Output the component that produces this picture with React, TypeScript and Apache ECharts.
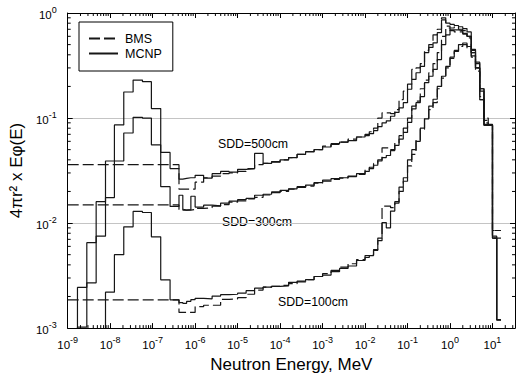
import React, { useEffect, useRef } from 'react';
import * as echarts from 'echarts';

const FONT = '"Liberation Sans", Arial, Helvetica, sans-serif';

// Axis extents, in decades (log10 of MeV and of the flux quantity)
const X_MIN = -9;
const X_MAX = 1.53;
const Y_MIN = -3;
const Y_MAX = 0;

// MCNP group boundaries, log10(E / MeV)
const mcnpEdgeExp = [
  -8.77, -8.55, -8.33, -8.11, -7.9, -7.68, -7.46, -7.24, -7.03, -6.81, -6.59, -6.38,
  -6.29, -6.2, -6.1, -6.0,
  -5.8, -5.6, -5.4, -5.2, -5.0, -4.8, -4.6, -4.4, -4.2, -4.0,
  -3.8, -3.6, -3.4, -3.2, -3.0, -2.8, -2.6, -2.4, -2.2, -2.0,
  -1.9, -1.8, -1.7, -1.6, -1.5, -1.4, -1.3, -1.2, -1.1, -1.0,
  -0.9, -0.8, -0.7, -0.6, -0.5, -0.4, -0.3, -0.2, -0.1, 0.0,
  0.1, 0.2, 0.3, 0.4, 0.5, 0.6, 0.7, 0.8, 0.9, 1.0, 1.1, 1.2,
];

// BMS group boundaries: one wide thermal group, then the same structure
const bmsEdgeExp = [
  -9.0, -6.38,
  -6.29, -6.2, -6.1, -6.0,
  -5.8, -5.6, -5.4, -5.2, -5.0, -4.8, -4.6, -4.4, -4.2, -4.0,
  -3.8, -3.6, -3.4, -3.2, -3.0, -2.8, -2.6, -2.4, -2.2, -2.0,
  -1.9, -1.8, -1.7, -1.6, -1.5, -1.4, -1.3, -1.2, -1.1, -1.0,
  -0.9, -0.8, -0.7, -0.6, -0.5, -0.4, -0.3, -0.2, -0.1, 0.0,
  0.1, 0.2, 0.3, 0.4, 0.5, 0.6, 0.7, 0.8, 0.9, 1.0, 1.1, 1.2,
];

// 4πr² · Eφ(E) per group, MCNP
const mcnp500 = [
  2.44e-3, 6.5e-3, 0.016, 0.039, 0.086, 0.177, 0.23, 0.222, 0.123, 0.047, 0.033,
  0.0262, 0.0266, 0.027, 0.027,
  0.0285, 0.0268, 0.0295, 0.031, 0.0305, 0.0325, 0.033, 0.046, 0.037, 0.0385,
  0.04, 0.042, 0.045, 0.0475, 0.05, 0.053, 0.057, 0.059, 0.061, 0.066,
  0.068, 0.071, 0.076, 0.083, 0.09, 0.094, 0.104, 0.113, 0.125, 0.14,
  0.188, 0.233, 0.27, 0.31, 0.42, 0.47, 0.52, 0.65, 0.86, 0.8,
  0.78, 0.76, 0.74, 0.71, 0.66, 0.45, 0.34, 0.19, 0.087, 0.087, 0.0072, 0.0012,
];

const mcnp300 = [
  1.02e-3, 2.7e-3, 7.5e-3, 0.0175, 0.039, 0.072, 0.1016, 0.1, 0.0556, 0.0222, 0.0144,
  0.0184, 0.0133, 0.0134, 0.018,
  0.0142, 0.0148, 0.0146, 0.0155, 0.0162, 0.0167, 0.0172, 0.0184, 0.0188, 0.0198,
  0.0205, 0.0212, 0.0222, 0.023, 0.0243, 0.0256, 0.0265, 0.027, 0.0277, 0.0296,
  0.031, 0.033, 0.0355, 0.039, 0.042, 0.044, 0.049, 0.055, 0.063, 0.073,
  0.091, 0.122, 0.14, 0.16, 0.217, 0.25, 0.29, 0.36, 0.5, 0.62,
  0.69, 0.69, 0.68, 0.64, 0.6, 0.44, 0.33, 0.19, 0.086, 0.086, 0.0075, 0.0012,
];

const mcnp100 = [
  null, null, null, 2.2e-3, 5.0e-3, 9.2e-3, 0.0129, 0.0126, 7.4e-3, 2.88e-3, 1.86e-3,
  1.75e-3, 1.72e-3, 1.8e-3, 1.87e-3,
  1.92e-3, 1.9e-3, 2.02e-3, 2.08e-3, 2.1e-3, 2.15e-3, 2.27e-3, 2.4e-3, 2.45e-3, 2.5e-3,
  2.52e-3, 2.73e-3, 2.8e-3, 2.9e-3, 3.1e-3, 3.2e-3, 3.45e-3, 3.7e-3, 3.9e-3, 4.4e-3,
  4.7e-3, 4.9e-3, 5.6e-3, 7.2e-3, 0.0101, 0.009, 0.013, 0.0155, 0.02, 0.027,
  0.04, 0.05, 0.06, 0.08, 0.098, 0.13, 0.151, 0.2, 0.25, 0.31,
  0.38, 0.44, 0.5, 0.518, 0.48, 0.39, 0.3, 0.18, 0.085, 0.085, 0.0072, 0.0012,
];

// 4πr² · Eφ(E) per group, BMS
const bms500 = [
  0.036,
  0.021, 0.021, 0.021, 0.021,
  0.0245, 0.027, 0.028, 0.0295, 0.03, 0.031, 0.033, 0.036, 0.037, 0.038,
  0.04, 0.042, 0.045, 0.048, 0.05, 0.054, 0.056, 0.059, 0.063, 0.066,
  0.07, 0.074, 0.08, 0.1, 0.112, 0.112, 0.11, 0.12, 0.15, 0.18,
  0.21, 0.29, 0.3, 0.33, 0.44, 0.5, 0.62, 0.7, 0.9, 0.75,
  0.72, 0.74, 0.7, 0.68, 0.6, 0.42, 0.3, 0.15, 0.1, 0.085, 0.0085, 0.0085,
];

const bms300 = [
  0.0149,
  0.0135, 0.0133, 0.0133, 0.0135,
  0.0138, 0.014, 0.0145, 0.015, 0.0158, 0.0163, 0.017, 0.0176, 0.0185, 0.0195,
  0.02, 0.021, 0.0218, 0.0225, 0.024, 0.025, 0.026, 0.0268, 0.028, 0.029,
  0.032, 0.034, 0.037, 0.04, 0.052, 0.052, 0.05, 0.058, 0.068, 0.08,
  0.1, 0.13, 0.145, 0.19, 0.23, 0.27, 0.33, 0.42, 0.6, 0.72,
  0.68, 0.66, 0.66, 0.63, 0.58, 0.42, 0.3, 0.16, 0.095, 0.085, 0.0072, 0.0072,
];

const bms100 = [
  1.86e-3,
  1.41e-3, 1.41e-3, 1.41e-3, 1.41e-3,
  1.6e-3, 1.65e-3, 1.65e-3, 1.88e-3, 1.9e-3, 1.95e-3, 2.1e-3, 2.3e-3, 2.45e-3, 2.5e-3,
  2.55e-3, 2.65e-3, 2.75e-3, 2.9e-3, 3.1e-3, 3.3e-3, 3.55e-3, 3.8e-3, 4.1e-3, 4.5e-3,
  4.9e-3, 5.0e-3, 5.5e-3, 6.8e-3, 0.0145, 0.0145, 0.014, 0.016, 0.022, 0.025,
  0.035, 0.045, 0.062, 0.078, 0.1, 0.12, 0.14, 0.19, 0.24, 0.3,
  0.37, 0.43, 0.48, 0.5, 0.46, 0.38, 0.28, 0.15, 0.09, 0.085, 0.0085, 0.0085,
];

const distanceLabels = ['SDD=500cm', 'SDD=300cm', 'SDD=100cm'];

// Histogram outline: each group becomes a flat segment, optionally rising from the axis floor
function toSteps(edges: number[], values: (number | null)[], fromFloor: boolean) {
  const pts: number[][] = [];
  let started = false;
  for (let i = 0; i < values.length; i++) {
    const v = values[i];
    if (v == null) continue;
    const y = Math.log10(v);
    if (!started && fromFloor) pts.push([edges[i], Y_MIN]);
    started = true;
    pts.push([edges[i], y], [edges[i + 1], y]);
  }
  return pts;
}

// Log-spaced minor tick positions (2..9 within each decade)
function minorTicks() {
  const out: number[][] = [];
  for (let n = Math.floor(X_MIN); n <= Math.ceil(X_MAX); n++) {
    for (let k = 2; k <= 9; k++) {
      const x = n + Math.log10(k);
      if (x > X_MIN && x < X_MAX) out.push([x, Y_MIN, 0]);
    }
  }
  for (let n = Y_MIN; n < Y_MAX; n++) {
    for (let k = 2; k <= 9; k++) {
      out.push([X_MIN, n + Math.log10(k), 1]);
    }
  }
  return out;
}

const pow10Label = (v: number) =>
  Math.abs(v - Math.round(v)) < 1e-6 ? `{b|10}{s|${Math.round(v)}}` : '';

const powRich = {
  b: { fontSize: 11.5, lineHeight: 16, color: '#000', fontFamily: FONT, verticalAlign: 'bottom' },
  s: { fontSize: 9, lineHeight: 9, color: '#000', fontFamily: FONT, verticalAlign: 'top' },
};

const LINE_COLOR = '#161616';

function stepSeries(name: string, data: number[][], dashed: boolean) {
  return {
    type: 'line',
    name,
    data,
    showSymbol: false,
    symbol: 'none',
    clip: true,
    z: 3,
    lineStyle: { color: LINE_COLOR, width: 1.2, type: dashed ? [11, 4] : 'solid' },
    itemStyle: { color: LINE_COLOR },
  };
}

export default function App() {
  const ref = useRef<HTMLDivElement>(null);

  useEffect(() => {
    if (!ref.current) return;
    const chart = echarts.init(ref.current, undefined, { renderer: 'svg' });

    const axisLine = { show: true, onZero: false, lineStyle: { color: '#000', width: 1 } };
    const axisTick = { show: true, inside: true, length: 5, lineStyle: { color: '#000', width: 1 } };

    chart.setOption({
      animation: false,
      backgroundColor: '#fff',
      textStyle: { fontFamily: FONT },
      grid: { left: 67, right: 2, top: 13, bottom: 47, containLabel: false },
      legend: {
        data: ['BMS', 'MCNP'],
        orient: 'vertical',
        left: 79,
        top: 22,
        itemWidth: 29,
        itemHeight: 12,
        itemGap: 2,
        padding: [10, 11, 11, 9],
        borderColor: '#000',
        borderWidth: 1,
        backgroundColor: '#fff',
        selectedMode: false,
        itemStyle: { opacity: 0, borderWidth: 0 },
        textStyle: { fontFamily: FONT, fontSize: 12.5, color: '#000', padding: [0, 0, 0, 2] },
      },
      xAxis: [
        {
          type: 'value',
          min: X_MIN,
          max: X_MAX,
          interval: 1,
          position: 'bottom',
          name: 'Neutron Energy, MeV',
          nameLocation: 'middle',
          nameGap: 25,
          nameTextStyle: { fontSize: 17, color: '#000', fontFamily: FONT },
          axisLine,
          axisTick,
          splitLine: { show: false },
          axisLabel: {
            margin: 7,
            formatter: pow10Label,
            rich: powRich,
            showMinLabel: true,
            showMaxLabel: true,
          },
        },
        {
          type: 'value',
          min: X_MIN,
          max: X_MAX,
          interval: 1,
          position: 'top',
          axisLine,
          axisTick,
          splitLine: { show: false },
          axisLabel: { show: false },
        },
      ],
      yAxis: [
        {
          type: 'value',
          min: Y_MIN,
          max: Y_MAX,
          interval: 1,
          position: 'left',
          name: '4πr² x Eφ(E)',
          nameLocation: 'middle',
          nameRotate: 90,
          nameGap: 41,
          nameTextStyle: { fontSize: 17, color: '#000', fontFamily: FONT },
          axisLine,
          axisTick,
          splitLine: { show: true, lineStyle: { color: '#c4c4c4', width: 1 } },
          axisLabel: {
            margin: 11,
            formatter: pow10Label,
            rich: powRich,
            showMinLabel: true,
            showMaxLabel: true,
          },
        },
        {
          type: 'value',
          min: Y_MIN,
          max: Y_MAX,
          interval: 1,
          position: 'right',
          axisLine,
          axisTick,
          splitLine: { show: false },
          axisLabel: { show: false },
        },
      ],
      graphic: [
        {
          type: 'text',
          left: 218,
          top: 138,
          style: { text: distanceLabels[0], fontSize: 12.3, fill: '#000', fontFamily: FONT },
        },
        {
          type: 'text',
          left: 222,
          top: 216,
          style: { text: distanceLabels[1], fontSize: 12.3, fill: '#000', fontFamily: FONT },
        },
        {
          type: 'text',
          left: 278,
          top: 296,
          style: { text: distanceLabels[2], fontSize: 12.3, fill: '#000', fontFamily: FONT },
        },
      ],
      series: [
        stepSeries('BMS', toSteps(bmsEdgeExp, bms500, false), true),
        stepSeries('BMS', toSteps(bmsEdgeExp, bms300, false), true),
        stepSeries('BMS', toSteps(bmsEdgeExp, bms100, false), true),
        stepSeries('MCNP', toSteps(mcnpEdgeExp, mcnp500, true), false),
        stepSeries('MCNP', toSteps(mcnpEdgeExp, mcnp300, true), false),
        stepSeries('MCNP', toSteps(mcnpEdgeExp, mcnp100, true), false),
        {
          type: 'custom',
          name: 'minor ticks',
          silent: true,
          clip: false,
          z: 5,
          data: minorTicks(),
          encode: { x: 0, y: 1 },
          renderItem: (params: any, api: any) => {
            const kind = api.value(2);
            const p = api.coord([api.value(0), api.value(1)]);
            const cs = params.coordSys;
            const style = { stroke: '#000', lineWidth: 1 };
            const len = 3;
            if (kind === 0) {
              const bottom = cs.y + cs.height;
              return {
                type: 'group',
                children: [
                  { type: 'line', shape: { x1: p[0], y1: bottom, x2: p[0], y2: bottom - len }, style },
                  { type: 'line', shape: { x1: p[0], y1: cs.y, x2: p[0], y2: cs.y + len }, style },
                ],
              };
            }
            const right = cs.x + cs.width;
            return {
              type: 'group',
              children: [
                { type: 'line', shape: { x1: cs.x, y1: p[1], x2: cs.x + len, y2: p[1] }, style },
                { type: 'line', shape: { x1: right, y1: p[1], x2: right - len, y2: p[1] }, style },
              ],
            };
          },
        },
      ],
    });

    return () => chart.dispose();
  }, []);

  return (
    <div
      ref={ref}
      style={{ position: 'fixed', left: 0, top: 0, width: 518, height: 378, background: '#fff' }}
    />
  );
}
